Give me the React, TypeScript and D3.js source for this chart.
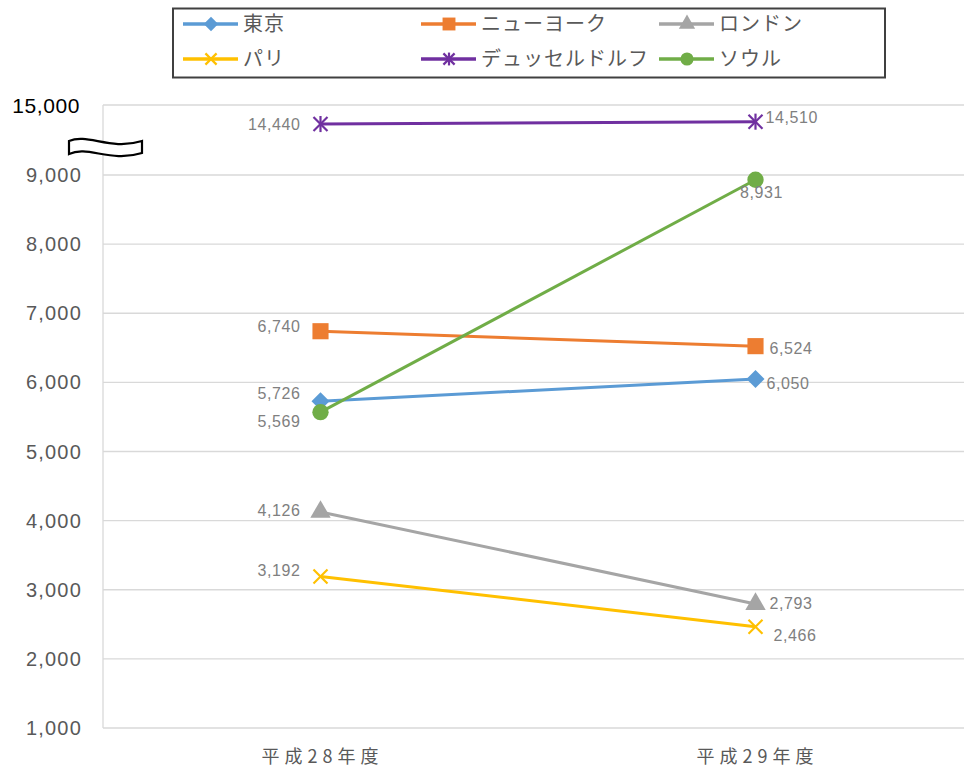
import React from "react";
import { scaleBand, scaleLinear, line, symbol, symbolSquare, symbolTriangle, symbolCircle } from "d3";

const categories = ["平成28年度", "平成29年度"];
const cities = ["東京", "ニューヨーク", "ロンドン", "パリ", "デュッセルドルフ", "ソウル"];
const tokyo = [5726, 6050];
const newYork = [6740, 6524];
const london = [4126, 2793];
const paris = [3192, 2466];
const dusseldorf = [14440, 14510];
const seoul = [5569, 8931];
const lowerTicks = [1000, 2000, 3000, 4000, 5000, 6000, 7000, 8000, 9000];
const upperTick = 15000;

const W = 964;
const H = 771;
const plotLeft = 103;
const fontNum = "'Liberation Sans', 'Noto Sans', sans-serif";
const fontJa = "'Noto Sans CJK JP', sans-serif";

const colors = ["#5B9BD5", "#ED7D31", "#A5A5A5", "#FFC000", "#7030A0", "#70AD47"];
const markers = ["diamond", "square", "triangle", "x", "star", "circle"];
// label offsets per series per point: [dx, dy, anchor]
const labelPos: [number, number, string][][] = [
  [[-20, -8, "end"], [11, 4, "start"]],
  [[-20, -5, "end"], [14, 2, "start"]],
  [[-20, -2, "end"], [14, -1, "start"]],
  [[-20, -6, "end"], [18, 9, "start"]],
  [[-20, 0, "end"], [10, -4, "start"]],
  [[-20, 9, "end"], [6, 13, "middle"]],
];

const series = [tokyo, newYork, london, paris, dusseldorf, seoul];

const yLow = scaleLinear().domain([1000, 9000]).range([728, 175]);
const yTop = scaleLinear().domain([14000, 15000]).range([139, 105]);
const y = (v: number) => (v >= 10000 ? yTop(v) : yLow(v));
const x = scaleBand<string>().domain(categories).range([plotLeft, 973]);
const cx = (c: string) => (x(c) as number) + x.bandwidth() / 2;

function Marker({ kind, color, px, py, s = 1 }: { kind: string; color: string; px: number; py: number; s?: number }) {
  const t = `translate(${px},${py})`;
  if (kind === "x") {
    const r = 7 * s;
    return (
      <g transform={t} stroke={color} strokeWidth={2.2}>
        <line x1={-r} y1={-r} x2={r} y2={r} />
        <line x1={-r} y1={r} x2={r} y2={-r} />
      </g>
    );
  }
  if (kind === "star") {
    const r = 7 * s;
    return (
      <g transform={t} stroke={color} strokeWidth={2.2}>
        <line x1={-r} y1={-r} x2={r} y2={r} />
        <line x1={-r} y1={r} x2={r} y2={-r} />
        <line x1={0} y1={-r * 1.15} x2={0} y2={r * 1.15} />
      </g>
    );
  }
  if (kind === "diamond") {
    const r = 9 * s;
    return <path transform={t} d={`M0,${-r}L${r},0L0,${r}L${-r},0Z`} fill={color} />;
  }
  const type = kind === "square" ? symbolSquare : kind === "triangle" ? symbolTriangle : symbolCircle;
  const size = kind === "square" ? 260 : kind === "triangle" ? 180 : 210;
  const d = symbol(type, size * s * s)() as string;
  return <path transform={t} d={d} fill={color} />;
}

export default function App() {
  const path = line<number>()
    .x((_, i) => cx(categories[i]))
    .y((v) => y(v));
  const legendCols = [183, 421, 659];
  const legendRows = [24, 59];

  return (
    <svg width={W} height={H} style={{ position: "absolute", left: 0, top: 0, background: "#fff" }}>
      {/* gridlines */}
      {lowerTicks.map((t) => (
        <line key={t} x1={plotLeft} x2={W} y1={yLow(t)} y2={yLow(t)} stroke="#D9D9D9" strokeWidth={1.3} />
      ))}
      <line x1={plotLeft} x2={W} y1={yTop(upperTick)} y2={yTop(upperTick)} stroke="#D9D9D9" strokeWidth={1.3} />
      <line x1={plotLeft} x2={plotLeft} y1={yTop(upperTick)} y2={yLow(1000)} stroke="#D9D9D9" strokeWidth={1.3} />

      {/* y tick labels */}
      {lowerTicks.map((t) => (
        <text key={t} x={82} y={yLow(t)} dy="0.35em" textAnchor="end" fontFamily={fontNum} fontSize={20} letterSpacing={1.2} fill="#595959">
          {t.toLocaleString("en-US")}
        </text>
      ))}
      <text x={80} y={yTop(upperTick) + 1} dy="0.35em" textAnchor="end" fontFamily={fontNum} fontSize={21} letterSpacing={0.6} fill="#000">
        {upperTick.toLocaleString("en-US")}
      </text>
      {/* axis break symbol */}
      <path
        d="M69,141 C88,133 110,151 142,141 L142,153 C110,163 88,145 69,154 Z"
        fill="#fff"
        stroke="#000"
        strokeWidth={2.2}
      />

      {/* x labels */}
      {categories.map((c) => (
        <text key={c} x={cx(c) + 2} y={757} dy="0.35em" textAnchor="middle" fontFamily={fontJa} fontSize={18} fill="#595959" letterSpacing={5}>
          {c}
        </text>
      ))}

      {/* series */}
      {series.map((vals, si) => (
        <g key={si}>
          <path d={path(vals) as string} fill="none" stroke={colors[si]} strokeWidth={3} />
          {vals.map((v, i) => (
            <Marker key={i} kind={markers[si]} color={colors[si]} px={cx(categories[i])} py={y(v)} />
          ))}
          {vals.map((v, i) => {
            const [dx, dy, anchor] = labelPos[si][i];
            return (
              <text
                key={"l" + i}
                x={cx(categories[i]) + dx}
                y={y(v) + dy}
                dy="0.35em"
                textAnchor={anchor as any}
                fontFamily={fontNum}
                fontSize={16}
                letterSpacing={0.6}
                fill="#808080"
              >
                {v.toLocaleString("en-US")}
              </text>
            );
          })}
        </g>
      ))}

      {/* legend */}
      <rect x={173} y={8.5} width={712} height={69} fill="#fff" stroke="#404040" strokeWidth={2} />
      {cities.map((name, i) => {
        const lx = legendCols[i % 3];
        const ly = legendRows[Math.floor(i / 3)];
        return (
          <g key={name}>
            <line x1={lx} x2={lx + 55} y1={ly} y2={ly} stroke={colors[i]} strokeWidth={3.5} />
            <Marker kind={markers[i]} color={colors[i]} px={lx + 28} py={ly} s={0.8} />
            <text x={lx + 60} y={ly} dy="0.35em" fontFamily={fontJa} fontSize={20} letterSpacing={1} fill="#595959">
              {name}
            </text>
          </g>
        );
      })}
    </svg>
  );
}
